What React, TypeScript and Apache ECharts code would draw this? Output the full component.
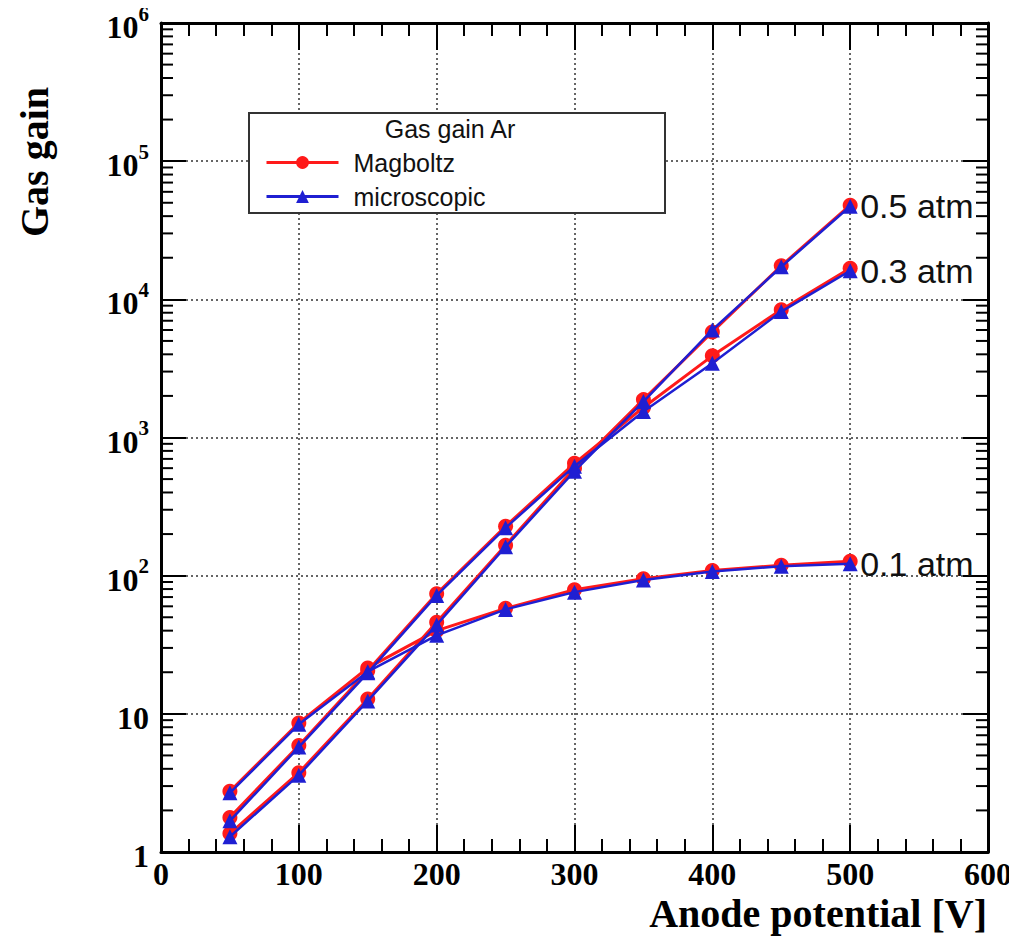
import React, { useEffect, useRef } from "react";
import * as echarts from "echarts";

const xValues = [50, 100, 150, 200, 250, 300, 350, 400, 450, 500];

const magboltz01 = [2.75, 8.6, 21.5, 40, 58, 79, 95, 109, 119, 127];
const magboltz03 = [1.78, 5.9, 20.5, 74, 228, 650, 1650, 3900, 8400, 16800];
const magboltz05 = [1.36, 3.75, 12.8, 46, 166, 600, 1880, 5800, 17500, 48000];

const micro01 = [2.68, 8.4, 20.2, 37, 57, 76, 93, 107, 117, 122];
const micro03 = [1.68, 5.75, 19.8, 72, 222, 620, 1540, 3450, 8150, 16100];
const micro05 = [1.29, 3.6, 12.4, 44, 162, 570, 1820, 6000, 17200, 47200];

const pressureLabels = ["0.1 atm", "0.3 atm", "0.5 atm"];

const yMinorMultipliers = [2, 3, 4, 5, 6, 7, 8, 9];
const yDecades = [1, 10, 100, 1000, 10000, 100000];

const SERIF = "Liberation Serif";
const SANS = "Liberation Sans";
const RED = "#ff1a1a";
const BLUE = "#1f1fd2";

function pairs(vals: number[]) {
  return xValues.map((x, i) => [x, vals[i]]);
}

export default function App() {
  const ref = useRef<HTMLDivElement>(null);

  useEffect(() => {
    if (!ref.current) return;
    const chart = echarts.init(ref.current, null, { renderer: "svg" });

    const minorTicks: number[][] = [];
    yDecades.forEach((d) => yMinorMultipliers.forEach((m) => minorTicks.push([0, m * d])));

    const redSeries = [magboltz01, magboltz03, magboltz05].map((vals) => ({
      type: "line",
      name: "Magboltz",
      data: pairs(vals),
      symbol: "circle",
      symbolSize: 15,
      itemStyle: { color: RED },
      lineStyle: { color: RED, width: 3 },
      z: 3,
    }));

    const blueSeries = [micro01, micro03, micro05].map((vals, i) => ({
      type: "line",
      name: "microscopic",
      data: pairs(vals),
      symbol: "triangle",
      symbolSize: 15,
      itemStyle: { color: BLUE },
      lineStyle: { color: BLUE, width: 2.5 },
      z: 4,
      endLabel: {
        show: true,
        formatter: pressureLabels[i],
        fontFamily: SANS,
        fontSize: 34,
        color: "#111",
        distance: 10,
      },
    }));

    const tickFont = { fontFamily: SERIF, fontWeight: "bold", fontSize: 32, color: "#000" };

    const option: any = {
      animation: false,
      backgroundColor: "#fff",
      grid: { left: 161, right: 29, top: 23, bottom: 92, containLabel: false },
      legend: {
        data: ["Magboltz", "microscopic"],
        orient: "vertical",
        left: 260,
        top: 145,
        itemWidth: 72,
        itemHeight: 16,
        itemGap: 9,
        lineStyle: { width: 3 },
        textStyle: { fontFamily: SANS, fontSize: 25, color: "#111", padding: [0, 0, 0, 10] },
        z: 10,
        selectedMode: false,
      },
      xAxis: [
        {
          type: "value",
          position: "bottom",
          min: 0,
          max: 600,
          interval: 100,
          axisLine: { show: true, onZero: false, lineStyle: { color: "#000", width: 3 } },
          axisTick: { show: true, inside: true, length: 27, lineStyle: { color: "#000", width: 2 } },
          minorTick: { show: true, splitNumber: 5, length: 13, lineStyle: { color: "#000", width: 2 } },
          splitLine: { show: true, lineStyle: { color: "#333", width: 1.5, type: [2, 3] } },
          axisLabel: { ...tickFont, margin: 6 },
        },
        {
          type: "value",
          position: "top",
          min: 0,
          max: 600,
          interval: 100,
          axisLine: { show: true, onZero: false, lineStyle: { color: "#000", width: 3 } },
          axisTick: { show: true, inside: true, length: 27, lineStyle: { color: "#000", width: 2 } },
          minorTick: { show: true, splitNumber: 5, length: 13, lineStyle: { color: "#000", width: 2 } },
          splitLine: { show: false },
          axisLabel: { show: false },
        },
      ],
      yAxis: [
        {
          type: "log",
          logBase: 10,
          position: "left",
          min: 1,
          max: 1000000,
          axisLine: { show: true, onZero: false, lineStyle: { color: "#000", width: 3 } },
          axisTick: { show: true, inside: true, length: 25, lineStyle: { color: "#000", width: 2 } },
          splitLine: { show: true, lineStyle: { color: "#333", width: 1.5, type: [2, 3] } },
          axisLabel: {
            margin: 12,
            formatter: (v: number) => {
              const e = Math.round(Math.log10(v));
              if (e === 0) return "{b|1}";
              if (e === 1) return "{b|10}";
              return "{b|10}{s|" + e + "}";
            },
            rich: {
              b: { ...tickFont, lineHeight: 40, verticalAlign: "bottom" },
              s: { fontFamily: SERIF, fontWeight: "bold", fontSize: 21, color: "#000", lineHeight: 22, verticalAlign: "top" },
            },
          },
        },
        {
          type: "log",
          logBase: 10,
          position: "right",
          min: 1,
          max: 1000000,
          axisLine: { show: true, onZero: false, lineStyle: { color: "#000", width: 3 } },
          axisTick: { show: true, inside: true, length: 25, lineStyle: { color: "#000", width: 2 } },
          splitLine: { show: false },
          axisLabel: { show: false },
        },
      ],
      graphic: [
        {
          type: "rect",
          shape: { x: 249, y: 113, width: 416, height: 100 },
          style: { fill: "#fff", stroke: "#333", lineWidth: 2 },
          z: 5,
        },
        {
          type: "text",
          x: 450,
          y: 129,
          z: 6,
          style: {
            text: "Gas gain Ar",
            fontFamily: SANS,
            fontSize: 25,
            fill: "#111",
            align: "center",
            verticalAlign: "middle",
          },
        },
        {
          type: "text",
          x: 34,
          y: 162,
          rotation: Math.PI / 2,
          style: {
            text: "Gas gain",
            fontFamily: SERIF,
            fontWeight: "bold",
            fontSize: 40,
            fill: "#000",
            align: "center",
            verticalAlign: "middle",
          },
        },
        {
          type: "text",
          x: 987,
          y: 913,
          style: {
            text: "Anode potential [V]",
            fontFamily: SERIF,
            fontWeight: "bold",
            fontSize: 40,
            fill: "#000",
            align: "right",
            verticalAlign: "middle",
          },
        },
      ],
      series: [
        {
          type: "custom",
          name: "minorTicks",
          xAxisIndex: 0,
          yAxisIndex: 0,
          silent: true,
          clip: false,
          data: minorTicks,
          renderItem: (params: any, api: any) => {
            const v = api.value(1);
            const pl = api.coord([0, v]);
            const pr = api.coord([600, v]);
            const st = { stroke: "#000", lineWidth: 2 };
            return {
              type: "group",
              children: [
                { type: "line", shape: { x1: pl[0], y1: pl[1], x2: pl[0] + 12, y2: pl[1] }, style: st },
                { type: "line", shape: { x1: pr[0] - 12, y1: pr[1], x2: pr[0], y2: pr[1] }, style: st },
              ],
            };
          },
          z: 1,
        },
        ...redSeries,
        ...blueSeries,
      ],
    };

    chart.setOption(option);
    return () => chart.dispose();
  }, []);

  return <div ref={ref} style={{ width: 1017, height: 944, marginLeft: -8, marginTop: -8 }} />;
}
